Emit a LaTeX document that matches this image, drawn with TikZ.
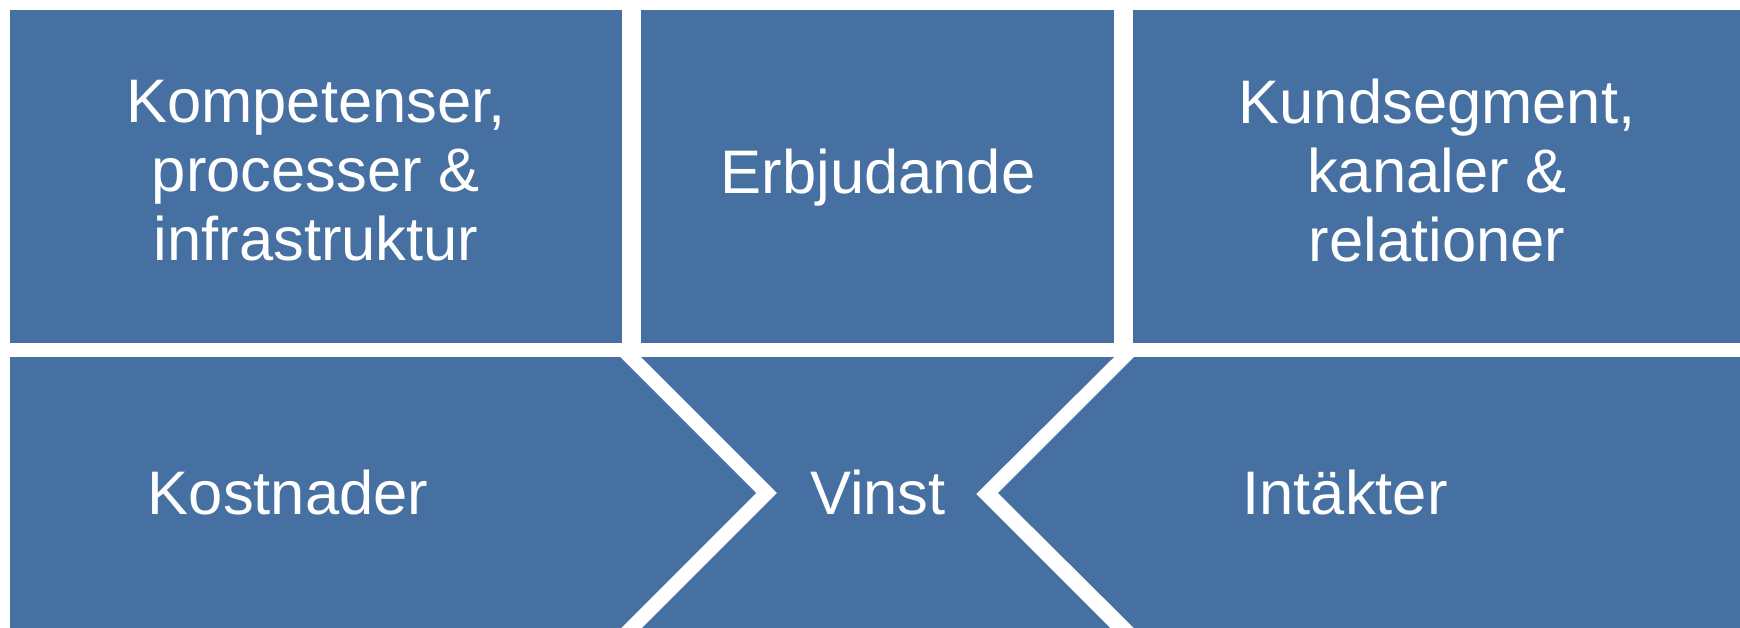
\documentclass[tikz,border=0pt]{standalone}
\usepackage{fontspec}
\setmainfont{Liberation Sans}
\definecolor{boxblue}{RGB}{70,112,161}
\begin{document}
\begin{tikzpicture}[x=1pt,y=-1pt,
  panel/.style={fill=boxblue,draw=none},
  lbl/.style={text=white,font=\fontsize{61.5}{69}\selectfont,align=center,inner sep=0pt}]
\useasboundingbox (0,0) rectangle (1740,627);
\fill[white] (0,0) rectangle (1740,627);
% top row
\path[panel] (10,10) rectangle (622,343);
\path[panel] (641,10) rectangle (1114,343);
\path[panel] (1133,10) rectangle (1745,343);
% bottom row
\path[panel] (10,357) -- (620,357) -- (756,493) -- (617,632) -- (10,632) -- cycle;
\path[panel] (641,357) -- (1114,357) -- (976,494) -- (1114,632) -- (638,632) -- (777,493) -- cycle;
\path[panel] (1134,357) -- (1745,357) -- (1745,632) -- (1138,632) -- (998,493) -- cycle;
% labels
\node[lbl,anchor=center] (komp) at (316,171) {Kompetenser,\\processer \&\\infrastruktur};
\node[lbl,anchor=base] (erb) at (878,193) {Erbjudande};
\node[lbl,anchor=center] (kund) at (1437,171) {Kundsegment,\\kanaler \&\\relationer};
\node[lbl,anchor=base] (kost) at (288,514) {Kostnader};
\node[lbl,anchor=base] (vinst) at (878,514) {Vinst};
\node[lbl,anchor=base] (intakt) at (1345,514) {Intäkter};
\end{tikzpicture}
\end{document}
